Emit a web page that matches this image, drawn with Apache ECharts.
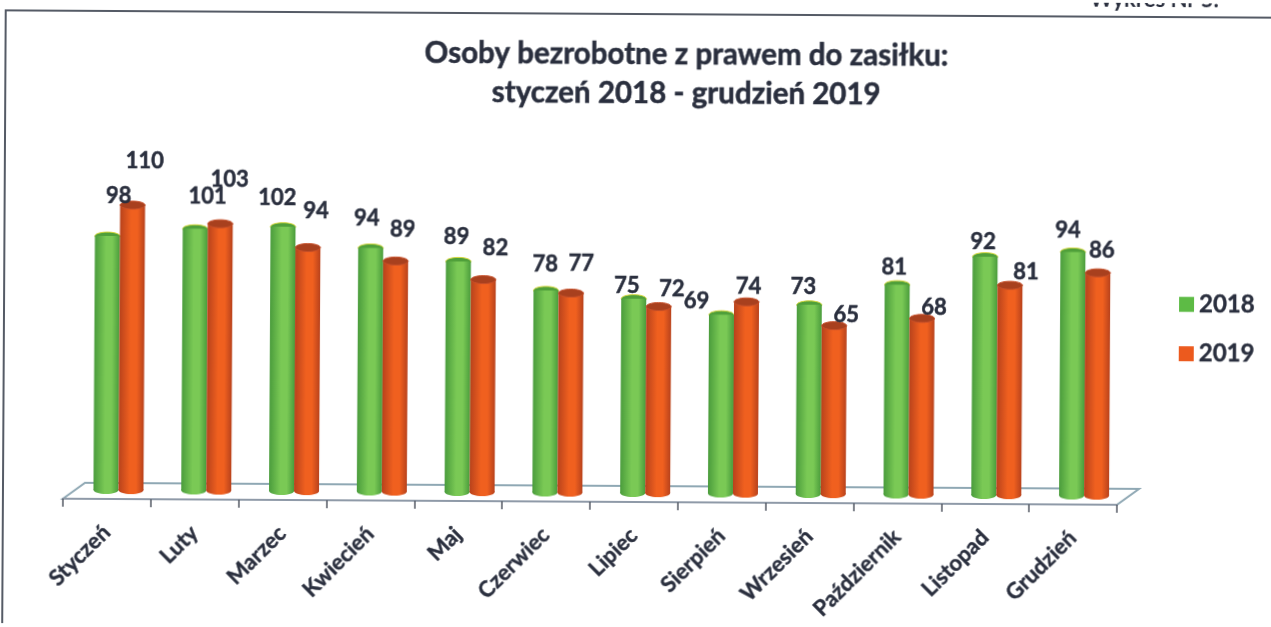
<!DOCTYPE html>
<html><head><meta charset="utf-8">
<style>html,body{margin:0;padding:0;background:#fff;overflow:hidden}
#c{width:1271px;height:627px;transform:rotate(0.33deg);transform-origin:635px 313px}</style>
<script src="https://cdn.jsdelivr.net/npm/echarts@6/dist/echarts.min.js"></script>
</head><body><div id="c"></div>
<script>
const categories = ['Styczeń','Luty','Marzec','Kwiecień','Maj','Czerwiec','Lipiec','Sierpień','Wrzesień','Październik','Listopad','Grudzień'];
const values2018 = [98,101,102,94,89,78,75,69,73,81,92,94];
const values2019 = [110,103,94,89,82,77,72,74,65,68,81,86];
const offsets2018 = [[11,-28],[12,-20],[-6,-17],[-4,-18],[-2,-13],[-1,-14],[-7,-1],[-25,-1],[-6,-6],[-3,-5],[-2,-3],[-5,-10]];
const offsets2019 = [[12,-32],[9,-32],[8,-25],[7,-20],[12,-20],[10,-18],[13,-6],[2,-3],[12,1],[12,1],[16,-1],[4,-10]];
const BW = 25, FONT = 'Lato', INK = '#2a2f3e';
const chart = echarts.init(document.getElementById('c'));
const body = (edge, mid) => ({type:'linear',x:0,y:0,x2:1,y2:0,colorStops:[{offset:0,color:edge},{offset:.45,color:mid},{offset:.7,color:mid},{offset:1,color:edge}]});
const green = body('#4a9c3c','#7ac955'), orange = body('#b8421c','#f0601f');
const barSeries = (name, vals, color) => ({
  name, type:'bar', xAxisIndex:0, yAxisIndex:0, barWidth:BW, barGap:'0%', itemStyle:{color}, z:name==='2019'?3:2, data: vals
});
const capSeries = (vals, dir, fill, top, rim) => ({
  type:'custom', xAxisIndex:0, yAxisIndex:0, silent:true, z:dir>0?4:2,
  data: vals.map((v,i)=>[i,v]),
  renderItem:(p,api)=>{
    const t = api.coord([api.value(0),api.value(1)]), b = api.coord([api.value(0),0]), x = t[0]+dir*BW/2;
    return {type:'group',children:[
      {type:'ellipse',shape:{cx:x,cy:b[1],rx:BW/2,ry:4},style:{fill}},
      {type:'ellipse',shape:{cx:x,cy:t[1],rx:BW/2,ry:4},style:{fill:top,stroke:rim,lineWidth:1}}
    ]};
  }
});
const labelSeries = (vals, offs, dir) => ({
  type:'custom', xAxisIndex:0, yAxisIndex:0, silent:true, z:6,
  data: vals.map((v,i)=>[i,v]),
  renderItem:(p,api)=>{
    const i = api.value(0), v = api.value(1), t = api.coord([i,v]);
    return {type:'text',x:t[0]+dir*BW/2+offs[i][0],y:t[1]-12+offs[i][1],
      style:{text:String(v),align:'center',verticalAlign:'middle',fontFamily:FONT,fontWeight:'bold',fontSize:22,fill:INK,stroke:INK,lineWidth:.5}};
  }
});
chart.setOption({
  animation:false, backgroundColor:'#fff',
  title:{text:'Osoby bezrobotne z prawem do zasiłku:\nstyczeń 2018 - grudzień 2019',left:680,top:30,textAlign:'center',
    textStyle:{fontFamily:FONT,fontWeight:'bold',fontSize:29.5,lineHeight:39,color:INK,textBorderColor:INK,textBorderWidth:.5}},
  legend:{data:[{name:'2018',itemStyle:{color:'#5dbb45'}},{name:'2019',itemStyle:{color:'#ec5a1e'}}],orient:'vertical',left:1174,top:284,itemWidth:15,itemHeight:15,itemGap:25,icon:'rect',
    textStyle:{fontFamily:FONT,fontWeight:'bold',fontSize:24,color:INK,textBorderColor:INK,textBorderWidth:.4}},
  grid:[{left:75.6,right:142,top:208,bottom:134},{left:64,right:153,top:208,bottom:125}],
  xAxis:[
    {type:'category',gridIndex:0,data:categories,show:false},
    {type:'category',gridIndex:1,data:categories,show:true,position:'bottom',
     axisLine:{show:true,onZero:false,lineStyle:{color:'#8f9aa8',width:2}},
     axisTick:{show:true,length:8,lineStyle:{color:'#555b66',width:1.5}},
     axisLabel:{rotate:45,interval:0,margin:30,fontFamily:FONT,fontWeight:'bold',fontSize:22,color:INK,textBorderColor:INK,textBorderWidth:.4}}
  ],
  yAxis:[
    {type:'value',gridIndex:0,min:0,max:110,show:false,splitLine:{show:false}},
    {type:'value',gridIndex:1,min:0,max:110,show:false,splitLine:{show:false}}
  ],
  graphic:[
    {type:'rect',silent:true,z:-1,shape:{x:4,y:14,width:1320,height:614},style:{fill:'none',stroke:'#555b66',lineWidth:2}},
    {type:'polygon',silent:true,z:-1,shape:{points:[[64,502],[86,486],[1140,486],[1118,502]]},style:{fill:'none',stroke:'#8fa8b4',lineWidth:2}},
    {type:'text',silent:true,x:1088,y:-14,style:{text:'Wykres Nr 5.',fontFamily:FONT,fontWeight:'bold',fontSize:22,fill:INK}}
  ],
  series:[
    barSeries('2018',values2018,green),
    barSeries('2019',values2019,orange),
    capSeries(values2018,-1,green,'#4f9f3a','#d8d83a'),
    capSeries(values2019,1,orange,'#a8401e','#c8502a'),
    labelSeries(values2018,offsets2018,-1),
    labelSeries(values2019,offsets2019,1)
  ]
});
</script></body></html>
